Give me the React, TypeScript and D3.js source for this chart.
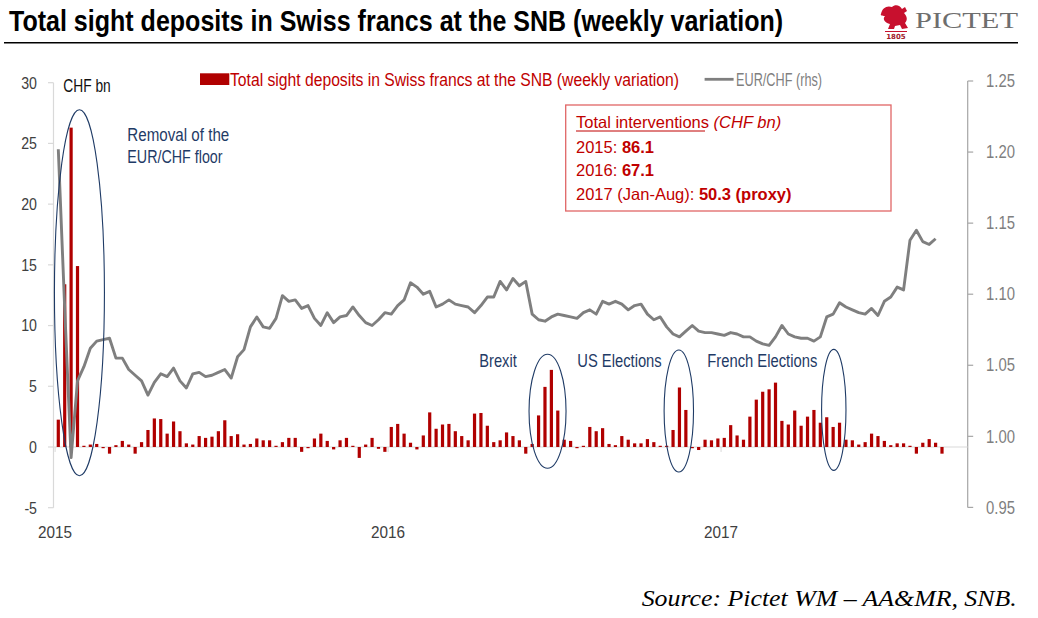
import React, { useLayoutEffect, useRef, useState } from "react";
import * as d3 from "d3";

const weeklyVariation: number[] = [
  2.25, 13.4, 26.3, 14.9, 0.1, 0.2, 0.25, -0.05, -0.55, 0.15,
  0.5, 0.2, -0.55, 0.4, 1.4, 2.35, 2.3, 1.1, 2.1, 1.3,
  0.3, 0.2, 0.9, 0.75, 0.85, 1.3, 2.2, 0.9, 1.05, 0.2,
  0.25, 0.7, 0.55, 0.55, 0.1, 0.4, 0.75, 0.75, -0.4, -0.05,
  0.7, 1.1, 0.5, -0.2, 0.55, 0.75, 0.05, -0.9, 0.2, 0.75,
  -0.15, -0.4, 1.65, 1.9, 1.1, 0.35, -0.2, 0.95, 2.85, 1.5,
  1.85, 1.9, 1.3, 0.9, 0.55, 2.75, 2.8, 1.75, 0.4, 0.55,
  1.2, 0.9, 0.55, -0.55, 0.25, 2.6, 4.95, 6.35, 3.0, 0.6,
  0.5, -0.05, 0.02, 1.65, 1.3, 1.55, 0.25, 0.15, 0.9, 0.6,
  0.3, 0.3, 0.65, 0.4, 0.05, 0.02, 1.4, 4.9, 3.05, -0.1,
  -0.25, 0.6, 0.55, 0.7, 0.75, 1.8, 0.95, 0.6, 2.5, 3.9,
  4.55, 4.75, 5.3, 2.15, 1.85, 3.0, 1.75, 2.5, 3.05, 2.0,
  2.45, 1.65, 2.0, 0.6, 0.55, 0.2, 0.4, 1.1, 0.9, 0.5,
  0.15, 0.3, 0.3, 0.1, -0.55, 0.35, 0.65, 0.35, -0.55,
];

const eurChf: number[] = [
  1.202, 1.09, 0.985, 1.039, 1.049, 1.062, 1.067, 1.068, 1.069, 1.055,
  1.055, 1.047, 1.043, 1.039, 1.029, 1.038, 1.044, 1.042, 1.048, 1.039,
  1.034, 1.044, 1.045, 1.042, 1.043, 1.045, 1.047, 1.041, 1.056, 1.061,
  1.077, 1.084, 1.077, 1.076, 1.083, 1.099, 1.095, 1.096, 1.09, 1.092,
  1.083, 1.078, 1.087, 1.08, 1.084, 1.085, 1.091, 1.085, 1.08, 1.078,
  1.082, 1.087, 1.086, 1.092, 1.096, 1.108, 1.105, 1.1, 1.102, 1.091,
  1.093, 1.096, 1.093, 1.092, 1.091, 1.087, 1.092, 1.098, 1.098, 1.109,
  1.103, 1.111, 1.106, 1.109, 1.086, 1.082, 1.081, 1.084, 1.086, 1.085,
  1.084, 1.083, 1.087, 1.089, 1.086, 1.095, 1.093, 1.095, 1.093, 1.089,
  1.092, 1.093, 1.086, 1.082, 1.084, 1.077, 1.072, 1.07, 1.074, 1.078,
  1.074, 1.073, 1.073, 1.072, 1.071, 1.073, 1.072, 1.07, 1.07, 1.067,
  1.065, 1.064, 1.07, 1.078, 1.072, 1.07, 1.069, 1.069, 1.067, 1.07,
  1.084, 1.086, 1.094, 1.091, 1.089, 1.087, 1.086, 1.09, 1.085, 1.095,
  1.098, 1.105, 1.103, 1.138, 1.145, 1.137, 1.135, 1.139,
];

const leftTicks: number[] = [-5, 0, 5, 10, 15, 20, 25, 30];
const rightTicks: number[] = [0.95, 1.0, 1.05, 1.1, 1.15, 1.2, 1.25];
const yearLabels: string[] = ["2015", "2016", "2017"];
const yearStartIndex: number[] = [0, 52, 104];

const events = [
  { idx: 3.3, val: 12.7, rx: 25, ry: 183 },
  { idx: 76.4, val: 2.94, rx: 18.5, ry: 57 },
  { idx: 96.9, val: 2.96, rx: 14.7, ry: 61 },
  { idx: 121.1, val: 3.06, rx: 12.2, ry: 60.5 },
];

const SANS = "'Liberation Sans', Arial, sans-serif";
const SERIF = "'Liberation Serif', 'DejaVu Serif', serif";
const RED = "#b00000";
const TXTRED = "#c00000";
const BLUE = "#1f3b66";
const GREY = "#7f7f7f";

type NTProps = {
  x: number;
  y: number;
  size: number;
  fill: string;
  sx?: number;
  anchor?: "start" | "middle" | "end";
  children: React.ReactNode;
};

function NT({ x, y, size, fill, sx = 0.82, anchor = "start", children }: NTProps) {
  return (
    <text
      transform={`translate(${x},${y}) scale(${sx},1)`}
      fontSize={size}
      fill={fill}
      textAnchor={anchor}
    >
      {children}
    </text>
  );
}

type FitProps = {
  x: number;
  y: number;
  width: number;
  size: number;
  fill: string;
  weight?: string;
  italic?: boolean;
  family?: string;
  children: React.ReactNode;
};

function FitText({ x, y, width, size, fill, weight, italic, family, children }: FitProps) {
  const ref = useRef<SVGTextElement>(null);
  const [sx, setSx] = useState(0.82);
  useLayoutEffect(() => {
    if (ref.current) {
      const w = ref.current.getComputedTextLength();
      if (w > 0) setSx(width / w);
    }
  }, [width]);
  return (
    <text
      ref={ref}
      transform={`translate(${x},${y}) scale(${sx},1)`}
      fontSize={size}
      fill={fill}
      fontWeight={weight}
      fontStyle={italic ? "italic" : undefined}
      fontFamily={family}
    >
      {children}
    </text>
  );
}

export default function App() {
  const W = 1038;
  const H = 618;
  const n = weeklyVariation.length;
  const x = d3.scaleLinear().domain([0, n - 1]).range([58.3, 942.0]);
  const step = x(1) - x(0);
  const yL = d3.scaleLinear().domain([-5, 30]).range([507.7, 82.7]);
  const yR = d3.scaleLinear().domain([0.95, 1.25]).range([507.4, 81]);
  const barW = 3.2;
  const axL = 53.5;
  const axR = 967.7;
  const y0 = yL(0);

  const line = d3
    .line<number>()
    .x((_, i) => x(i))
    .y((d) => yR(d));

  return (
    <svg
      width={W}
      height={H}
      style={{ position: "absolute", left: 0, top: 0, background: "#fff" }}
      fontFamily={SANS}
    >
      {/* Title */}
      <FitText x={9} y={30.5} width={774} size={29} weight="bold" fill="#000">
        Total sight deposits in Swiss francs at the SNB (weekly variation)
      </FitText>
      <line x1={4} x2={1018} y1={42.7} y2={42.7} stroke="#000" strokeWidth={1.4} />

      {/* Logo */}
      <g>
        <path
          d="M881,14 C882,8 887,5 892,7 C895,4 900,5 902,9 L905,7 L907,11 L904,13 C907,16 908,20 905,23 L908,28 L902,29 L900,25 L895,26 L894,29 L888,29 L890,24 C885,23 882,19 885,16 C882,16 880,15 881,14 Z"
          fill="#c8102e"
        />
        <line x1={885} x2={907} y1={31.5} y2={31.5} stroke="#c8102e" strokeWidth={1} />
        <text x={896} y={39} fontSize={7} fontWeight="bold" fill="#a0182a" textAnchor="middle" fontFamily="'DejaVu Sans', sans-serif">
          1805
        </text>
        <FitText x={915} y={27.7} width={103} size={24} fill="#6e6e6e" family={SERIF}>
          PICTET
        </FitText>
      </g>

      {/* Left axis */}
      <line x1={axL} x2={axL} y1={yL(30)} y2={yL(-5)} stroke="#d9d9d9" strokeWidth={1.2} />
      {leftTicks.map((t) => (
        <g key={"l" + t}>
          <line x1={axL - 5.5} x2={axL} y1={yL(t)} y2={yL(t)} stroke="#d9d9d9" strokeWidth={1.2} />
          <NT x={37} y={yL(t) + 5.8} size={16.5} fill="#404040" anchor="end" sx={0.86}>
            {t}
          </NT>
        </g>
      ))}
      <FitText x={63.3} y={91.5} width={47.4} size={18} fill="#111">
        CHF bn
      </FitText>

      {/* Right axis */}
      <line x1={axR} x2={axR} y1={yR(1.25)} y2={yR(0.95)} stroke="#a6a6a6" strokeWidth={1.2} />
      {rightTicks.map((t) => (
        <g key={"r" + t}>
          <line x1={axR} x2={axR + 5.5} y1={yR(t)} y2={yR(t)} stroke="#a6a6a6" strokeWidth={1.2} />
          <NT x={986} y={yR(t) + 6.2} size={17.5} fill={GREY} sx={0.85}>
            {t.toFixed(2)}
          </NT>
        </g>
      ))}

      {/* Zero line & year ticks */}
      <line x1={axL} x2={axR} y1={y0} y2={y0} stroke="#d9d9d9" strokeWidth={1.2} />
      {yearStartIndex.map((si, k) => (
        <g key={"y" + k}>
          <line x1={x(si) - step / 2} x2={x(si) - step / 2} y1={y0} y2={y0 + 5} stroke="#d9d9d9" strokeWidth={1} />
          <NT x={x(si) - step / 2} y={538.3} size={17} fill="#404040" anchor="middle" sx={0.9}>
            {yearLabels[k]}
          </NT>
        </g>
      ))}

      {/* Bars */}
      {weeklyVariation.map((v, i) => {
        const top = yL(Math.max(v, 0));
        const bot = yL(Math.min(v, 0));
        const h = Math.max(bot - top, 1.2);
        return (
          <rect
            key={"b" + i}
            x={x(i) - barW / 2}
            y={v >= 0 ? bot - h : top}
            width={barW}
            height={h}
            fill={RED}
          />
        );
      })}

      {/* EUR/CHF line */}
      <path d={line(eurChf) || ""} fill="none" stroke={GREY} strokeWidth={2.9} strokeLinejoin="round" />

      {/* Ellipses */}
      {events.map((e, k) => (
        <ellipse
          key={"e" + k}
          cx={x(e.idx)}
          cy={yL(e.val)}
          rx={e.rx}
          ry={e.ry}
          fill="none"
          stroke={BLUE}
          strokeWidth={1.1}
        />
      ))}

      {/* Annotations */}
      <FitText x={127.3} y={141} width={102} size={18.5} fill={BLUE}>
        Removal of the
      </FitText>
      <FitText x={127.3} y={163.3} width={95.3} size={18.5} fill={BLUE}>
        EUR/CHF floor
      </FitText>
      <FitText x={479.3} y={367.3} width={37.4} size={18.5} fill={BLUE}>
        Brexit
      </FitText>
      <FitText x={577.3} y={367.3} width={84.4} size={18.5} fill={BLUE}>
        US Elections
      </FitText>
      <FitText x={707.3} y={367.3} width={110} size={18.5} fill={BLUE}>
        French Elections
      </FitText>

      {/* Legend */}
      <rect x={200} y={73.3} width={29.3} height={11.7} fill={RED} />
      <FitText x={230} y={86} width={449} size={18.5} fill={TXTRED}>
        Total sight deposits in Swiss francs at the SNB (weekly variation)
      </FitText>
      <line x1={704.6} x2={733.6} y1={79.3} y2={79.3} stroke={GREY} strokeWidth={2.8} />
      <FitText x={736} y={86} width={86} size={18.5} fill={GREY}>
        EUR/CHF (rhs)
      </FitText>

      {/* Info box */}
      <rect x={565.7} y={105} width={325.3} height={106} fill="#fff" stroke="#e06666" strokeWidth={1.3} />
      <text x={576} y={128.3} fontSize={16.5} fill={TXTRED}>
        <tspan>Total interventions</tspan>
        <tspan fontStyle="italic"> (CHF bn)</tspan>
      </text>
      <line x1={576} x2={705} y1={131} y2={131} stroke={TXTRED} strokeWidth={1} />
      <text x={576} y={152.7} fontSize={16.5} fill={TXTRED}>
        2015: <tspan fontWeight="bold">86.1</tspan>
      </text>
      <text x={576} y={176} fontSize={16.5} fill={TXTRED}>
        2016: <tspan fontWeight="bold">67.1</tspan>
      </text>
      <text x={576} y={200} fontSize={16.5} fill={TXTRED}>
        2017 (Jan-Aug): <tspan fontWeight="bold">50.3 (proxy)</tspan>
      </text>

      {/* Source */}
      <FitText x={641.7} y={606} width={375} size={24} italic fill="#000" family={SERIF}>
        Source: Pictet WM – AA&amp;MR, SNB.
      </FitText>
    </svg>
  );
}
